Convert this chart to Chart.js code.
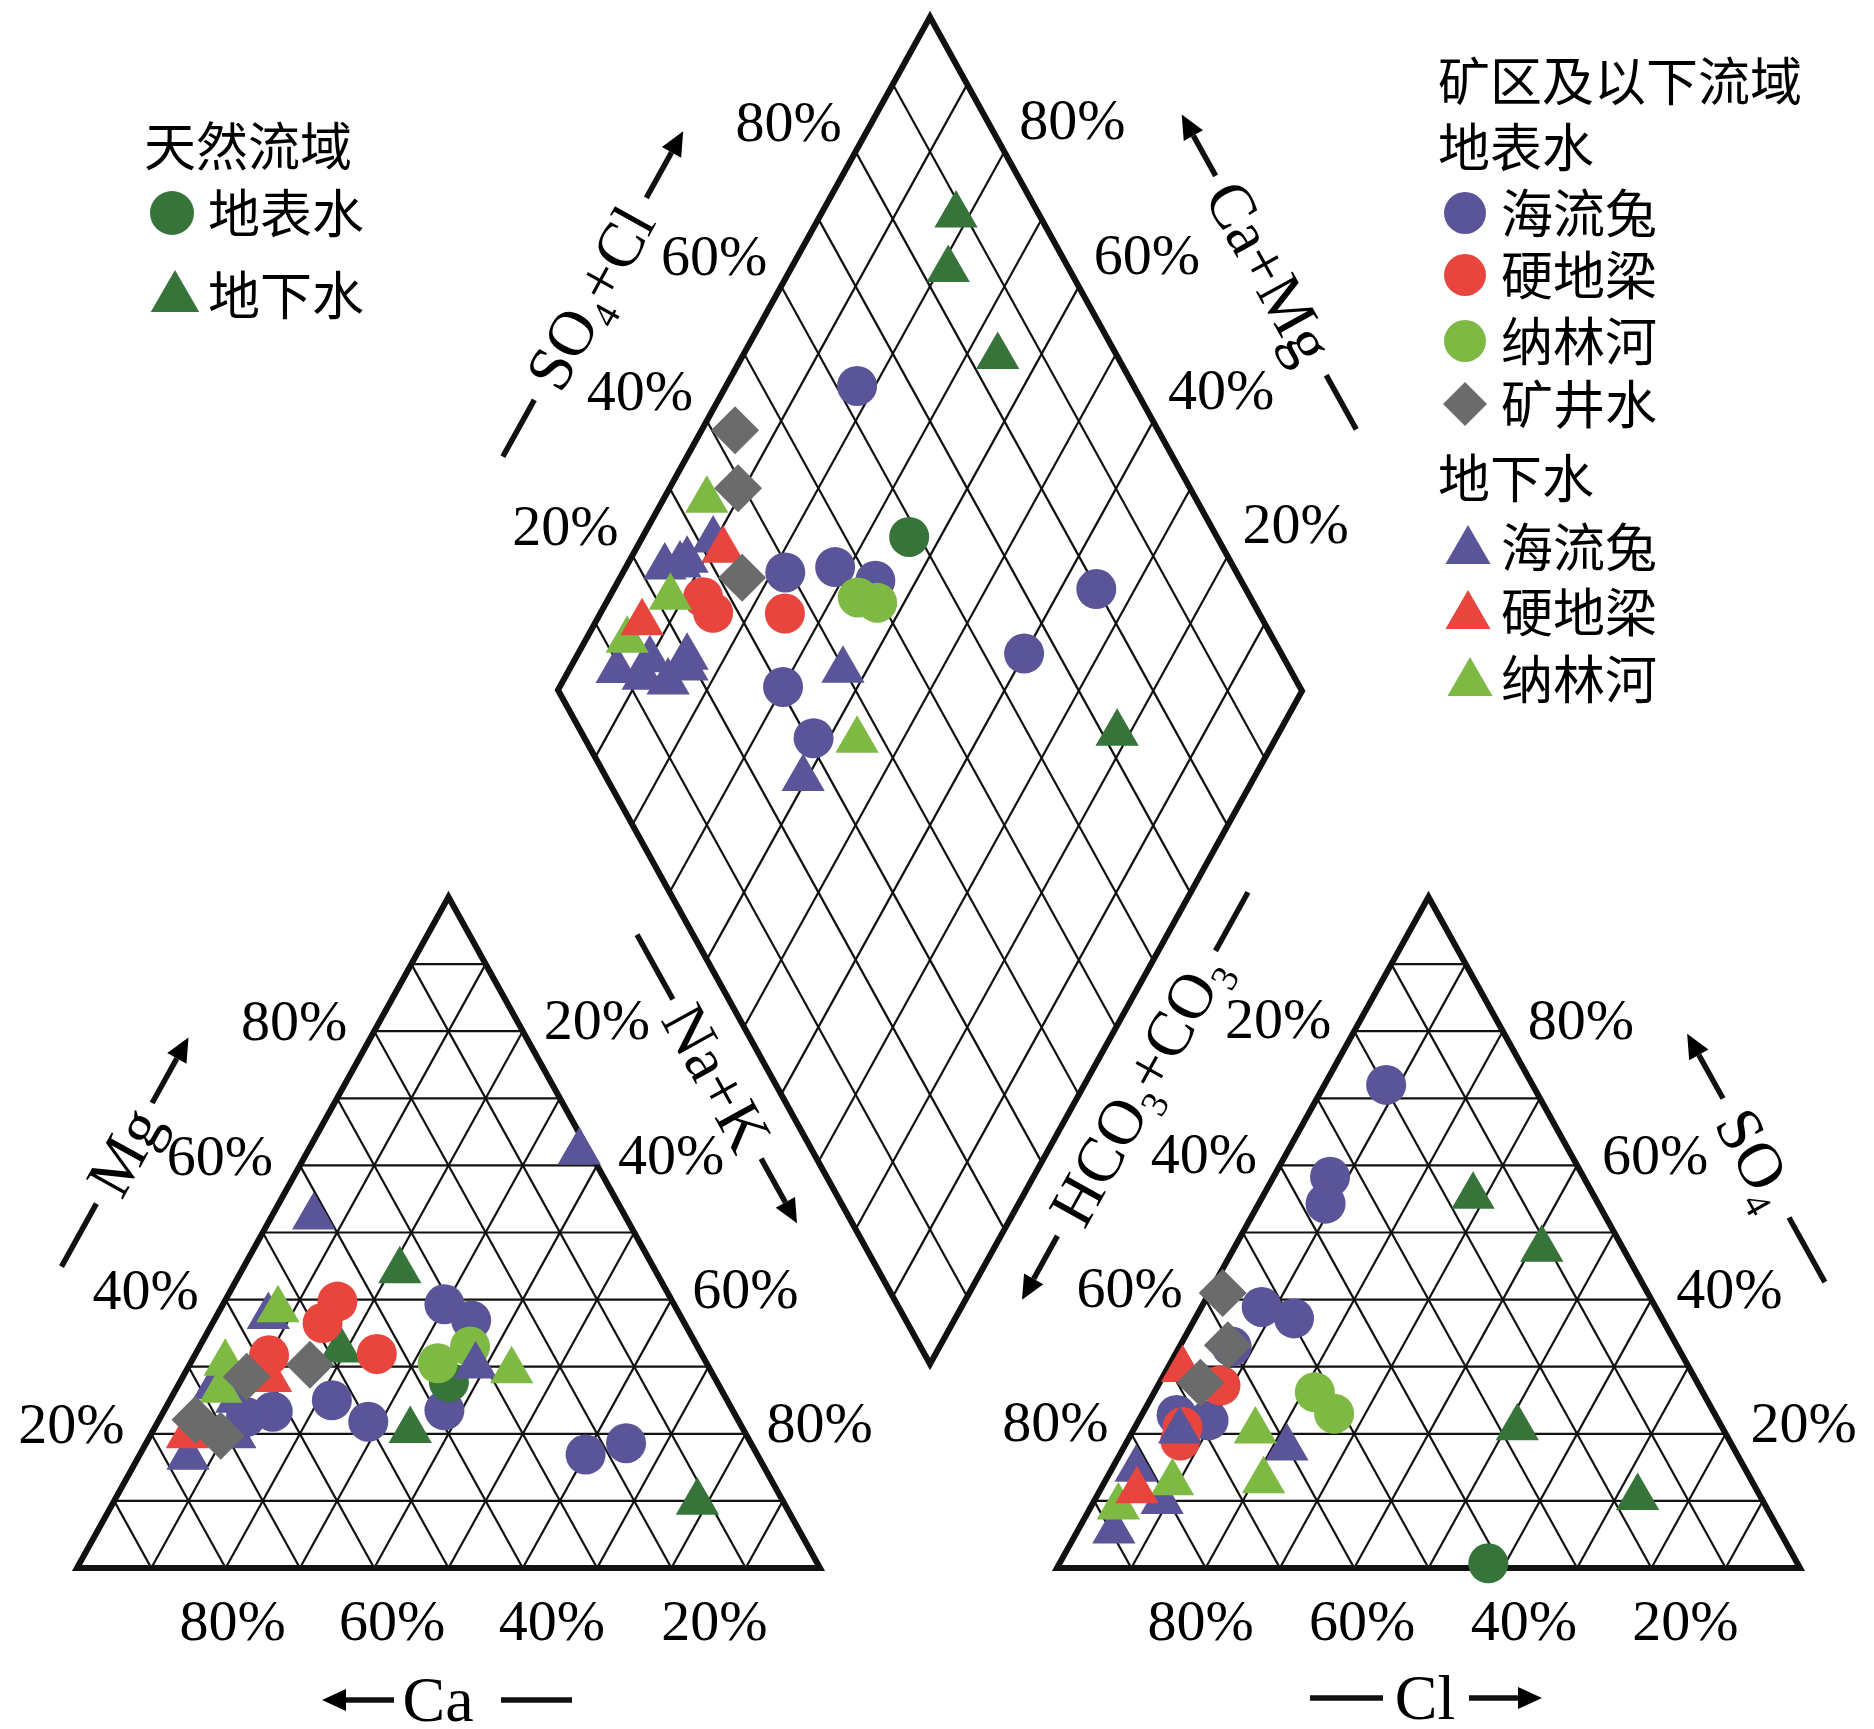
<!DOCTYPE html>
<html lang="zh">
<head>
<meta charset="utf-8">
<title>Piper 三线图</title>
<script src="https://cdn.jsdelivr.net/npm/chart.js@4.4.1/dist/chart.umd.min.js"></script>
<style>
  html, body { margin: 0; padding: 0; background: #fff; }
  canvas { display: block; }
</style>
</head>
<body>
<canvas id="piper" width="1874" height="1729"></canvas>
<script>
// 阳离子三角：[Mg %, Na+K %]
const cationNatSurface = [[27.7, 36.2]];
const cationNatGround = [[44.3, 21.3], [32.5, 19.2], [20.5, 34.6], [9.8, 78.6]];
const cationHltSurface = [[39.3, 29.8], [36.9, 34.6], [25.0, 21.8], [21.8, 28.3], [23.5, 37.7], [23.3, 14.7], [16.9, 60.0], [18.6, 64.6], [22.5, 11.5]];
const cationYdlSurface = [[39.7, 15.2], [36.5, 14.8], [31.9, 24.4], [31.7, 10.0]];
const cationNlhSurface = [[33.0, 36.4], [30.5, 33.3]];
const cationMine = [[30.3, 16.2], [28.5, 8.6], [22.1, 4.9], [19.7, 9.5]];
const cationHltGround = [[62.0, 36.6], [52.3, 5.7], [37.5, 7.0], [30.1, 38.6], [19.7, 11.4], [16.5, 6.7], [27.0, 5.0], [25.0, 9.0]];
const cationYdlGround = [[28.1, 12.0], [19.7, 5.0]];
const cationNlhGround = [[38.5, 7.8], [29.4, 43.8], [30.5, 4.7], [26.5, 6.1]];

// 阴离子三角：[SO4 %, Cl %]
const anionNatSurface = [[0.7, 57.7]];
const anionNatGround = [[55.4, 28.3], [47.5, 41.5], [20.9, 51.5], [10.5, 72.9]];
const anionHltSurface = [[72.0, 8.3], [58.3, 7.6], [54.3, 9.0], [38.9, 8.1], [37.2, 13.3], [22.8, 4.7], [22.0, 9.4], [33.0, 7.0]];
const anionYdlSurface = [[27.2, 8.4], [21.0, 6.4], [19.0, 7.1]];
const anionNlhSurface = [[26.2, 21.6], [23.0, 25.8]];
const anionMine = [[41.0, 1.8], [33.2, 6.4], [27.6, 5.5]];
const anionHltGround = [[20.4, 6.3], [17.9, 22.0], [14.7, 3.3], [9.9, 9.2], [5.5, 4.9]];
const anionYdlGround = [[29.6, 2.1], [11.5, 5.0]];
const anionNlhGround = [[20.4, 16.5], [13.0, 21.3], [12.7, 9.2], [9.1, 3.7]];

// 菱形：[Na+K %, SO4+Cl %]
const diamondNatSurface = [[35.8, 58.6]];
const diamondNatGround = [[18.2, 88.8], [21.2, 83.7], [34.3, 83.9], [78.3, 72.0]];
const diamondHltSurface = [[17.6, 62.8], [21.8, 39.3], [28.1, 46.4], [34.5, 50.8], [64.8, 79.9], [59.9, 65.4], [30.0, 30.5], [37.9, 30.8]];
const diamondYdlSurface = [[15.1, 26.6], [12.6, 26.4], [24.8, 36.2]];
const diamondNlhSurface = [[33.4, 47.2], [36.4, 49.4]];
const diamondMine = [[4.5, 43.1], [9.2, 39.2], [16.4, 33.1]];
const diamondHltGround = [[9.7, 32.0], [7.7, 27.0], [5.2, 23.5], [7.1, 25.7], [6.5, 9.4], [10.5, 12.4], [14.2, 15.4], [15.7, 19.0], [14.9, 19.8], [10.1, 14.6], [36.8, 39.8], [39.5, 26.4]];
const diamondYdlGround = [[11.8, 32.6], [6.3, 16.3]];
const diamondNlhGround = [[5.9, 34.1], [8.2, 22.0], [5.6, 13.0], [43.9, 36.5]];

// 网格与刻度
const gridSteps = [10, 20, 30, 40, 50, 60, 70, 80, 90];
const tickValues = [80, 60, 40, 20];
const tickLabelsDown = ['80%', '60%', '40%', '20%'];
const tickLabelsUp = ['20%', '40%', '60%', '80%'];

// 图形位置（画布像素）
const cationFrame = { left: [77, 1568], right: [820, 1568], top: [448.5, 897] };
const anionFrame = { left: [1057, 1568], right: [1800, 1568], top: [1428.5, 897] };
const diamondFrame = { left: [558, 690], top: [930, 17], right: [1302, 690], bottom: [930, 1364] };

const DARK_GREEN = '#36743a';
const PURPLE = '#5a5498';
const RED = '#e8453f';
const LIGHT_GREEN = '#7db943';
const GRAY = '#6b6b6b';

function triPoint(f, top, right) {
  const t = top / 100, r = right / 100;
  return {
    x: f.left[0] + (r + t / 2) * (f.right[0] - f.left[0]),
    y: f.left[1] + t * (f.top[1] - f.left[1])
  };
}

function diamondPoint(nak, sc) {
  const f = diamondFrame, n = nak / 100, s = sc / 100;
  return {
    x: f.left[0] + s * (f.top[0] - f.left[0]) + n * (f.bottom[0] - f.left[0]),
    y: f.left[1] + s * (f.top[1] - f.left[1]) + n * (f.bottom[1] - f.left[1])
  };
}

// first group is drawn on top
const groups = [
  { label: '矿井水', color: GRAY, style: 'rectRot', r: 24, cation: cationMine, anion: anionMine, diamond: diamondMine },
  { label: '硬地梁 地下水', color: RED, style: 'triangle', r: 25, cation: cationYdlGround, anion: anionYdlGround, diamond: diamondYdlGround },
  { label: '纳林河 地下水', color: LIGHT_GREEN, style: 'triangle', r: 25, cation: cationNlhGround, anion: anionNlhGround, diamond: diamondNlhGround },
  { label: '海流兔 地下水', color: PURPLE, style: 'triangle', r: 25, cation: cationHltGround, anion: anionHltGround, diamond: diamondHltGround },
  { label: '纳林河 地表水', color: LIGHT_GREEN, style: 'circle', r: 20, cation: cationNlhSurface, anion: anionNlhSurface, diamond: diamondNlhSurface },
  { label: '硬地梁 地表水', color: RED, style: 'circle', r: 20, cation: cationYdlSurface, anion: anionYdlSurface, diamond: diamondYdlSurface },
  { label: '天然 地表水', color: DARK_GREEN, style: 'circle', r: 20, cation: cationNatSurface, anion: anionNatSurface, diamond: diamondNatSurface },
  { label: '天然 地下水', color: DARK_GREEN, style: 'triangle', r: 25, cation: cationNatGround, anion: anionNatGround, diamond: diamondNatGround },
  { label: '海流兔 地表水', color: PURPLE, style: 'circle', r: 20, cation: cationHltSurface, anion: anionHltSurface, diamond: diamondHltSurface }
];

const datasets = groups.map(g => ({
  label: g.label,
  data: [
    ...g.cation.map(([mg, nak]) => triPoint(cationFrame, mg, nak)),
    ...g.anion.map(([so4, cl]) => triPoint(anionFrame, so4, cl)),
    ...g.diamond.map(([nak, sc]) => diamondPoint(nak, sc))
  ],
  pointStyle: g.style,
  pointRadius: g.r,
  pointHoverRadius: g.r,
  backgroundColor: g.color,
  borderColor: g.color,
  borderWidth: 0,
  showLine: false,
  clip: false
}));

// axis titles along the edges: offsets measured along the rotated direction
const axisTitles = [
  { x: 593, y: 294, angle: -61, parts: [['SO'], ['4', 1], ['+Cl']], textAt: -5, dash: [-186, -121], arrow: [110, 186] },
  { x: 1269, y: 272, angle: 61, parts: [['Ca+Mg']], textAt: 0, dash: [118, 180], arrow: [-110, -180] },
  { x: 717, y: 1079, angle: 61, parts: [['Na+K']], textAt: -1, dash: [-165, -91], arrow: [91, 165] },
  { x: 1135, y: 1096, angle: -61, parts: [['HCO'], ['3', 1], ['+CO'], ['3', 1]], textAt: 7, dash: [166, 233], arrow: [-160, -233] },
  { x: 125, y: 1152, angle: -61, parts: [['Mg']], textAt: 0, dash: [-131, -59], arrow: [56, 131] },
  { x: 1756, y: 1158, angle: 61, parts: [['SO'], ['4', 1]], textAt: 0, dash: [68, 142], arrow: [-68, -142] },
  { x: 447, y: 1700, angle: 0, parts: [['Ca']], textAt: -9, dash: [54, 125], arrow: [-53, -125] },
  { x: 1426, y: 1698, angle: 0, parts: [['Cl']], textAt: -1, dash: [-116, -43], arrow: [43, 116] }
];

const legendLeft = {
  title: '天然流域', titleAt: [144, 146],
  rows: [
    { text: '地表水', style: 'circle', color: DARK_GREEN, r: 22, at: [172, 213] },
    { text: '地下水', style: 'triangle', color: DARK_GREEN, r: 28, at: [175, 298] }
  ],
  textX: 208
};

const legendRight = {
  headers: [['矿区及以下流域', 81], ['地表水', 147], ['地下水', 478]], headerX: 1438,
  rows: [
    { text: '海流兔', style: 'circle', color: PURPLE, r: 21, at: [1465, 213] },
    { text: '硬地梁', style: 'circle', color: RED, r: 21, at: [1465, 275] },
    { text: '纳林河', style: 'circle', color: LIGHT_GREEN, r: 21, at: [1465, 341] },
    { text: '矿井水', style: 'rectRot', color: GRAY, r: 22, at: [1465, 404] },
    { text: '海流兔', style: 'triangle', color: PURPLE, r: 26, at: [1468, 551] },
    { text: '硬地梁', style: 'triangle', color: RED, r: 26, at: [1468, 616] },
    { text: '纳林河', style: 'triangle', color: LIGHT_GREEN, r: 26, at: [1470, 683] }
  ],
  textX: 1501
};

function drawMarker(ctx, style, x, y, r, color) {
  ctx.fillStyle = color;
  ctx.beginPath();
  if (style === 'circle') {
    ctx.arc(x, y, r, 0, Math.PI * 2);
  } else if (style === 'triangle') {
    for (let i = 0; i < 3; i++) {
      const a = -Math.PI / 2 + i * 2 * Math.PI / 3;
      ctx.lineTo(x + Math.cos(a) * r, y + Math.sin(a) * r);
    }
  } else {
    ctx.moveTo(x - r, y);
    ctx.lineTo(x, y - r);
    ctx.lineTo(x + r, y);
    ctx.lineTo(x, y + r);
  }
  ctx.closePath();
  ctx.fill();
}

const piperFrame = {
  id: 'piperFrame',
  beforeDraw(chart) {
    const { ctx, width, height } = chart;
    ctx.save();
    ctx.fillStyle = '#fff';
    ctx.fillRect(0, 0, width, height);
    ctx.restore();
  },
  beforeDatasetsDraw(chart) {
    const ctx = chart.ctx;
    const sx = chart.scales.x, sy = chart.scales.y;
    const P = p => [sx.getPixelForValue(p.x), sy.getPixelForValue(p.y)];

    const stroke = (pts, close) => {
      ctx.beginPath();
      pts.forEach((p, i) => {
        const [x, y] = P(p);
        if (i === 0) ctx.moveTo(x, y); else ctx.lineTo(x, y);
      });
      if (close) ctx.closePath();
      ctx.stroke();
    };

    ctx.save();
    ctx.strokeStyle = '#111';
    ctx.lineJoin = 'miter';

    // thin grid
    ctx.lineWidth = 2.2;
    [cationFrame, anionFrame].forEach(f => {
      gridSteps.forEach(k => {
        stroke([triPoint(f, k, 0), triPoint(f, k, 100 - k)]);
        stroke([triPoint(f, 0, k), triPoint(f, 100 - k, k)]);
        stroke([triPoint(f, 0, 100 - k), triPoint(f, 100 - k, 0)]);
      });
    });
    gridSteps.forEach(k => {
      stroke([diamondPoint(0, k), diamondPoint(100, k)]);
      stroke([diamondPoint(k, 0), diamondPoint(k, 100)]);
    });

    // outlines
    ctx.lineWidth = 6;
    [cationFrame, anionFrame].forEach(f => {
      stroke([triPoint(f, 0, 0), triPoint(f, 0, 100), triPoint(f, 100, 0)], true);
    });
    stroke([diamondPoint(0, 0), diamondPoint(0, 100), diamondPoint(100, 100), diamondPoint(100, 0)], true);

    // tick labels
    ctx.fillStyle = '#000';
    ctx.font = '58px "Liberation Serif", "Times New Roman", serif';
    ctx.textAlign = 'center';
    ctx.textBaseline = 'middle';
    const put = (text, p, dx, dy) => {
      const [x, y] = P(p);
      ctx.fillText(text, x + dx, y + dy);
    };
    const cationBottomShift = [7, 18, 29, 43];
    const anionBottomShift = [-5, 8, 21, 34];
    tickValues.forEach((v, i) => {
      put(tickLabelsDown[i], triPoint(cationFrame, v, 0), -80, -6);
      put(tickLabelsUp[i], triPoint(cationFrame, v, 100 - v), 74, -7);
      put(tickLabelsDown[i], triPoint(cationFrame, 0, 100 - v), cationBottomShift[i], 57);
      put(tickLabelsUp[i], triPoint(anionFrame, v, 0), -76, -8);
      put(tickLabelsDown[i], triPoint(anionFrame, v, 100 - v), 78, -7);
      put(tickLabelsDown[i], triPoint(anionFrame, 0, 100 - v), anionBottomShift[i], 57);
      put(tickLabelsDown[i], diamondPoint(0, v), -67, -26);
      put(tickLabelsDown[i], diamondPoint(100 - v, 100), 68, -28);
    });

    // axis titles with dash and arrow
    axisTitles.forEach(t => {
      ctx.save();
      ctx.translate(sx.getPixelForValue(t.x), sy.getPixelForValue(t.y));
      ctx.rotate(t.angle * Math.PI / 180);
      const mainFont = '64px "Liberation Serif", "Times New Roman", serif';
      const subFont = '38px "Liberation Serif", "Times New Roman", serif';
      let w = 0;
      t.parts.forEach(([s, sub]) => {
        ctx.font = sub ? subFont : mainFont;
        w += ctx.measureText(s).width;
      });
      let cx = t.textAt - w / 2;
      ctx.textAlign = 'left';
      ctx.textBaseline = 'alphabetic';
      t.parts.forEach(([s, sub]) => {
        ctx.font = sub ? subFont : mainFont;
        ctx.fillText(s, cx, sub ? 34 : 21);
        cx += ctx.measureText(s).width;
      });
      ctx.lineWidth = 5.5;
      ctx.lineCap = 'butt';
      ctx.beginPath();
      ctx.moveTo(t.dash[0], 0);
      ctx.lineTo(t.dash[1], 0);
      ctx.stroke();
      const [a0, a1] = t.arrow;
      const dir = Math.sign(a1 - a0);
      const headLen = 24;
      ctx.beginPath();
      ctx.moveTo(a0, 0);
      ctx.lineTo(a1 - dir * headLen, 0);
      ctx.stroke();
      ctx.beginPath();
      ctx.moveTo(a1, 0);
      ctx.lineTo(a1 - dir * headLen, -11);
      ctx.lineTo(a1 - dir * headLen, 11);
      ctx.closePath();
      ctx.fillStyle = '#000';
      ctx.fill();
      ctx.restore();
    });
    ctx.restore();
  },
  afterDatasetsDraw(chart) {
    const ctx = chart.ctx;
    ctx.save();
    ctx.fillStyle = '#000';
    ctx.font = '52px "Noto Sans CJK SC", sans-serif';
    ctx.textAlign = 'left';
    ctx.textBaseline = 'middle';

    ctx.fillText(legendLeft.title, legendLeft.titleAt[0], legendLeft.titleAt[1]);
    legendLeft.rows.forEach(row => {
      drawMarker(ctx, row.style, row.at[0], row.at[1], row.r, row.color);
      ctx.fillStyle = '#000';
      ctx.fillText(row.text, legendLeft.textX, row.at[1] - (row.style === 'triangle' ? 3 : 0));
    });

    legendRight.headers.forEach(([text, y]) => {
      ctx.fillStyle = '#000';
      ctx.fillText(text, legendRight.headerX, y);
    });
    legendRight.rows.forEach(row => {
      drawMarker(ctx, row.style, row.at[0], row.at[1], row.r, row.color);
      ctx.fillStyle = '#000';
      ctx.fillText(row.text, legendRight.textX, row.at[1] - (row.style === 'triangle' ? 4 : 0));
    });
    ctx.restore();
  }
};

const ctx = document.getElementById('piper');

// eslint-disable-next-line no-unused-vars
const piperChart = new Chart(ctx, {
  type: 'scatter',
  data: { datasets },
  options: {
    responsive: false,
    animation: false,
    devicePixelRatio: 1,
    events: [],
    layout: { padding: 0, autoPadding: false },
    plugins: {
      legend: { display: false },
      tooltip: { enabled: false }
    },
    scales: {
      x: { type: 'linear', display: false, min: 0, max: 1874 },
      y: { type: 'linear', display: false, min: 0, max: 1729, reverse: true }
    }
  },
  plugins: [piperFrame]
});
</script>
</body>
</html>
